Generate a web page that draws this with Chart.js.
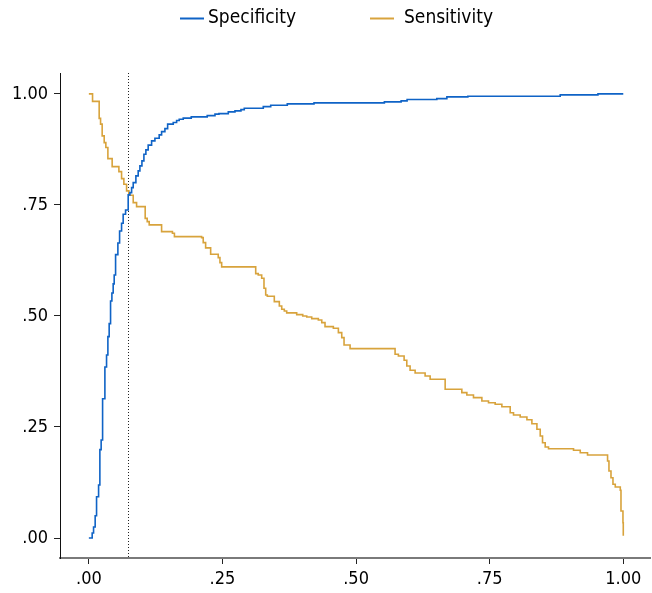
<!DOCTYPE html>
<html><head><meta charset="utf-8">
<style>html,body{margin:0;padding:0;background:#fff;}#wrap{width:652px;height:593px;}</style>
<script src="https://cdn.jsdelivr.net/npm/chart.js@4.4.1/dist/chart.umd.min.js"></script>
</head><body><div id="wrap"><canvas id="c" width="652" height="593"></canvas></div>
<script>
const seriesNames = ['Specificity', 'Sensitivity'];
const specX = [0, 0.0062, 0.0088, 0.0118, 0.0144, 0.0182, 0.0206, 0.0230, 0.0257, 0.0300, 0.0331, 0.0356, 0.0380, 0.0406, 0.0431, 0.0455, 0.0474, 0.0500, 0.0543, 0.0575, 0.0612, 0.0642, 0.0687, 0.0736, 0.0768, 0.0800, 0.0830, 0.0880, 0.0923, 0.0955, 0.0993, 0.1030, 0.1067, 0.1110, 0.1174, 0.1236, 0.1316, 0.1361, 0.1423, 0.1474, 0.1579, 0.1642, 0.1691, 0.1766, 0.1916, 0.2215, 0.2360, 0.2434, 0.2609, 0.2734, 0.2846, 0.2908, 0.3264, 0.3403, 0.3713, 0.4213, 0.5530, 0.5843, 0.5955, 0.6511, 0.6699, 0.7092, 0.8820, 0.9526, 1.0];
const specY = [0, 0.0113, 0.0248, 0.0502, 0.0930, 0.1194, 0.1989, 0.2207, 0.3137, 0.3851, 0.4122, 0.4534, 0.4827, 0.5338, 0.5518, 0.5721, 0.5923, 0.6381, 0.6644, 0.6914, 0.7088, 0.7291, 0.7387, 0.7725, 0.7777, 0.7890, 0.8002, 0.8153, 0.8266, 0.8378, 0.8491, 0.8642, 0.8739, 0.8845, 0.8941, 0.9002, 0.9077, 0.9151, 0.9218, 0.9318, 0.9354, 0.9399, 0.9430, 0.9453, 0.9482, 0.9511, 0.9543, 0.9556, 0.9595, 0.9617, 0.9646, 0.9678, 0.9714, 0.9745, 0.9775, 0.9797, 0.9820, 0.9842, 0.9872, 0.9894, 0.9932, 0.9948, 0.9977, 1.0, 1.0];
const sensX = [0, 0.0069, 0.0193, 0.0219, 0.0249, 0.0287, 0.0318, 0.0356, 0.0436, 0.0562, 0.0612, 0.0655, 0.0706, 0.0749, 0.0830, 0.0893, 0.1054, 0.1092, 0.1129, 0.1361, 0.1564, 0.1601, 0.2110, 0.2140, 0.2185, 0.2279, 0.2421, 0.2453, 0.2485, 0.3122, 0.3170, 0.3234, 0.3277, 0.3309, 0.3339, 0.3470, 0.3564, 0.3609, 0.3657, 0.3702, 0.3889, 0.4002, 0.4077, 0.4170, 0.4294, 0.4358, 0.4419, 0.4575, 0.4669, 0.4732, 0.4775, 0.4888, 0.5730, 0.5792, 0.5899, 0.5949, 0.6011, 0.6105, 0.6292, 0.6386, 0.6667, 0.6979, 0.7073, 0.7197, 0.7354, 0.7478, 0.7603, 0.7728, 0.7884, 0.7946, 0.8071, 0.8197, 0.8290, 0.8384, 0.8446, 0.8489, 0.8539, 0.8601, 0.9069, 0.9195, 0.9331, 0.9706, 0.9732, 0.9770, 0.9807, 0.9850, 0.9944, 0.9957, 0.9994, 1.0];
const sensY = [1.0, 0.9831, 0.9448, 0.9318, 0.9054, 0.8903, 0.8791, 0.8543, 0.8363, 0.8250, 0.8092, 0.7966, 0.7815, 0.7718, 0.7552, 0.7462, 0.7196, 0.7124, 0.7050, 0.6899, 0.6863, 0.6786, 0.6764, 0.6651, 0.6532, 0.6390, 0.6313, 0.6201, 0.6104, 0.5953, 0.5923, 0.5849, 0.5624, 0.5473, 0.5444, 0.5322, 0.5225, 0.5151, 0.5113, 0.5068, 0.5029, 0.5000, 0.4977, 0.4939, 0.4910, 0.4849, 0.4759, 0.4723, 0.4624, 0.4511, 0.4347, 0.4264, 0.4137, 0.4099, 0.4002, 0.3874, 0.3777, 0.3716, 0.3649, 0.3574, 0.3349, 0.3273, 0.3221, 0.3160, 0.3086, 0.3047, 0.3011, 0.2957, 0.2822, 0.2770, 0.2725, 0.2664, 0.2574, 0.2448, 0.2297, 0.2146, 0.2050, 0.2011, 0.1975, 0.1921, 0.1869, 0.1734, 0.1509, 0.1358, 0.1209, 0.1149, 0.1074, 0.0608, 0.0345, 0.005];
const tickValues = [0, 0.25, 0.5, 0.75, 1];
const tickLabels = ['.00', '.25', '.50', '.75', '1.00'];
const cutoff = 0.073;

const FONT = "'DejaVu Sans Condensed', 'DejaVu Sans', sans-serif";
const colors = ['#0f63c6', '#d8a33c'];

function pts(xs, ys) { return xs.map((x, i) => ({x: x, y: ys[i]})); }
function fmt(v) { const i = tickValues.findIndex(t => Math.abs(t - v) < 1e-9); return i >= 0 ? tickLabels[i] : ''; }

const legendPlugin = {
  id: 'customLegend',
  afterDraw(chart) {
    const ctx = chart.ctx;
    const starts = [180, 370];
    const gaps = [4, 10];
    const y = 18.5;
    ctx.save();
    ctx.font = '19px ' + FONT;
    ctx.textBaseline = 'middle';
    ctx.fillStyle = '#000';
    chart.data.datasets.forEach((ds, i) => {
      ctx.strokeStyle = ds.borderColor;
      ctx.lineWidth = 2;
      ctx.beginPath();
      ctx.moveTo(starts[i], y);
      ctx.lineTo(starts[i] + 24, y);
      ctx.stroke();
      ctx.fillText(ds.label, starts[i] + 24 + gaps[i], y);
    });
    ctx.restore();
  }
};

const cutoffPlugin = {
  id: 'cutoffLine',
  beforeDatasetsDraw(chart) {
    const ctx = chart.ctx, a = chart.chartArea;
    const x = Math.round(chart.scales.x.getPixelForValue(cutoff)) + 0.5;
    ctx.save();
    ctx.strokeStyle = '#222';
    ctx.lineWidth = 1;
    ctx.setLineDash([1, 2]);
    ctx.beginPath();
    ctx.moveTo(x, a.top);
    ctx.lineTo(x, a.bottom);
    ctx.stroke();
    ctx.restore();
  }
};

new Chart(document.getElementById('c'), {
  type: 'line',
  data: {
    datasets: [
      {label: seriesNames[0], data: pts(specX, specY), borderColor: colors[0], backgroundColor: colors[0], borderWidth: 1.6, stepped: true, pointRadius: 0, fill: false},
      {label: seriesNames[1], data: pts(sensX, sensY), borderColor: colors[1], backgroundColor: colors[1], borderWidth: 1.6, stepped: true, pointRadius: 0, fill: false}
    ]
  },
  options: {
    responsive: false,
    animation: false,
    devicePixelRatio: 1,
    layout: {padding: {top: 73, right: 2, left: 0, bottom: 0}},
    plugins: {legend: {display: false}, tooltip: {enabled: false}},
    scales: {
      x: {
        type: 'linear', min: -0.054, max: 1.05,
        afterBuildTicks: s => { s.ticks = tickValues.map(v => ({value: v})); },
        afterFit: s => { s.height = 35; },
        ticks: {callback: v => fmt(v), font: {family: FONT, size: 18}, color: '#000', padding: 5, maxRotation: 0, autoSkip: false},
        grid: {drawOnChartArea: false, drawTicks: true, tickLength: 6, color: '#222'},
        border: {display: true, color: '#7a7a7a', width: 2}
      },
      y: {
        type: 'linear', min: -0.045, max: 1.047,
        afterBuildTicks: s => { s.ticks = tickValues.map(v => ({value: v})); },
        afterFit: s => { s.width = 60; },
        ticks: {callback: v => fmt(v), font: {family: FONT, size: 18}, color: '#000', padding: 6, autoSkip: false},
        grid: {drawOnChartArea: false, drawTicks: true, tickLength: 6, color: '#222'},
        border: {display: true, color: '#111', width: 1}
      }
    }
  },
  plugins: [cutoffPlugin, legendPlugin]
});
</script>
</body></html>
